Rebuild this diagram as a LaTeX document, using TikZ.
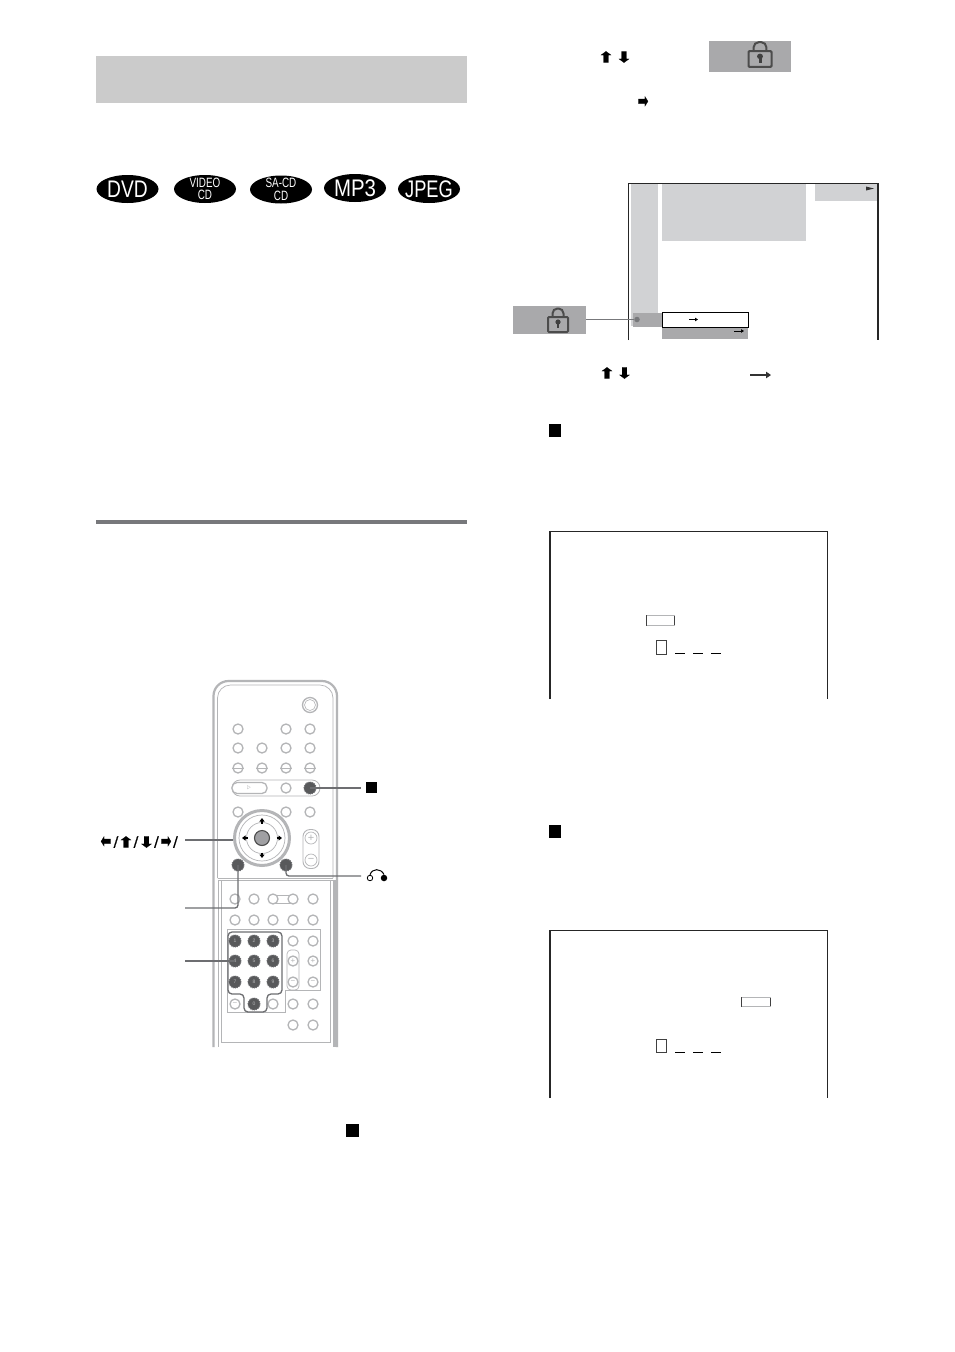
\documentclass[tikz,border=0pt]{standalone}
\usepackage{graphicx}
\usepackage{fontspec}
\setmainfont{Liberation Sans}
\newfontfamily\arrowfont{DejaVu Sans}[FakeBold=1]
\newcommand{\vglyph}[1]{\scalebox{1.35}[1]{#1}}
\newcommand{\hglyph}[1]{\scalebox{.85}[1.35]{#1}}
\usetikzlibrary{arrows.meta,shapes.geometric}
\definecolor{barG}{HTML}{CBCBCB}
\definecolor{paleG}{HTML}{D1D2D4}
\definecolor{midG}{HTML}{A9A9AB}
\definecolor{ruleG}{HTML}{77787B}
\definecolor{btnG}{HTML}{B4B5B7}
\definecolor{leadG}{HTML}{6D6E71}
\definecolor{darkB}{HTML}{58595B}
\tikzset{
  x=1pt,y=-1pt,
  discoval/.style={ellipse,fill=black,minimum width=62pt,minimum height=28pt,inner sep=0pt},
  ovalbig/.style={text=white,inner sep=0pt,font=\fontsize{24}{24}\selectfont},
  ovalsmall/.style={text=white,inner sep=0pt,yshift=-1.5pt,font=\fontsize{13.5}{11}\selectfont},
  btn/.style={circle,draw=btnG,line width=1.3pt,fill=white,minimum size=10pt,inner sep=0pt},
  btnmark/.style={text=btnG,inner sep=0pt,font=\fontsize{8}{8}\selectfont},
  dark/.style={circle,draw=leadG,densely dotted,line width=1pt,fill=darkB,minimum size=12pt,inner sep=0pt,text=btnG,font=\fontsize{5}{5}\selectfont},
  lead/.style={draw=leadG,line width=1.3pt,rounded corners=3pt},
  ar/.style={font=\arrowfont\fontsize{15}{15}\selectfont,inner sep=0pt},
  slashmark/.style={font=\arrowfont\fontsize{14}{14}\selectfont,inner sep=0pt},
  scr/.style={draw=black!85,line width=1.2pt},
  thinbox/.style={draw=black!75,line width=.7pt},
  stopsq/.style={fill=black,inner sep=0pt,minimum size=#1},
  pics/lockicon/.style={code={
    \draw[black!70,line width=2pt,rounded corners=5pt] (-5.5,-7.5) -- (-5.5,-16) -- (5.5,-16) -- (5.5,-7.5);
    \draw[black!70,line width=2pt,rounded corners=1pt,fill=midG] (-10,-7.5) rectangle (10,7.5);
    \fill[black!75] (0,-2.5) circle (2.6);
    \fill[black!75] (-1.3,-2.5) rectangle (1.3,3.5);
  }}
}
\begin{document}
\begin{tikzpicture}
\useasboundingbox[fill=white] (0,0) rectangle (954,1352);
% left column
\fill[barG] (96,56) rectangle (467,103);
\node[discoval] (dvd) at (127.5,189) {};
\node[ovalbig] (dvdt) at (dvd) {\scalebox{.8}[1]{DVD}};
\node[discoval] (vcd) at (205,189) {};
\node[ovalsmall] (vcdt) at (vcd) {\scalebox{.73}[1]{\begin{tabular}{@{}c@{}}VIDEO\\CD\end{tabular}}};
\node[discoval] (sacd) at (281,189.5) {};
\node[ovalsmall] (sacdt) at (sacd) {\scalebox{.73}[1]{\begin{tabular}{@{}c@{}}SA-CD\\CD\end{tabular}}};
\node[discoval] (mp3) at (355,188) {};
\node[ovalbig] (mp3t) at (mp3) {\scalebox{.85}[1]{MP3}};
\node[discoval] (jpeg) at (429,189) {};
\node[ovalbig] (jpegt) at (jpeg) {\scalebox{.76}[1]{JPEG}};
\fill[ruleG] (96,519.5) rectangle (467,523.5);
% remote body
\draw[btnG,line width=2.2pt,rounded corners=15pt] (213.5,1047) -- (213.5,681) -- (337,681) -- (337,1047);
\draw[btnG,line width=.7pt,rounded corners=13pt] (217.5,878) -- (217.5,685) -- (333,685) -- (333,878);
\draw[btnG,line width=.7pt] (217.5,878) -- (333,878);
\fill[btnG] (333,880) rectangle (338,1047);
\draw[btnG,line width=.6pt] (218,880) -- (218,1047) (221,880) -- (221,1042) -- (330,1042) -- (330,880) (218,880) -- (333,880);
\draw[btnG,line width=.6pt] (227,1012) -- (227,929) -- (320,929) -- (320,990) -- (285,990) -- (285,1012) -- cycle;
\draw[btnG,line width=.8pt,rounded corners=8pt] (232,780) rectangle (320,796);
% upper buttons
\node[btn,minimum size=15pt] (pwr) at (310,705) {};
\node[btn,minimum size=11pt,line width=.6pt] (pwrb) at (310,705) {};
\foreach \n/\x/\y in {a1/238/729,a2/286/729,a3/310/729,b1/238/748,b2/262/748,b3/286/748,b4/310/748,c1/238/768,c2/262/768,c3/286/768,c4/310/768,d2/286/788,e1/238/812,e2/286/812,e3/310/812}
  \node[btn] (\n) at (\x,\y) {};
\foreach \n in {c1,c2,c3,c4} \draw[btnG,line width=.8pt] (\n.west) -- (\n.east);
\node[draw=btnG,line width=1.3pt,fill=white,rounded corners=5pt,minimum width=35pt,minimum height=11pt,inner sep=0pt] (play) at (249.5,788) {};
\node[font=\fontsize{7}{7}\selectfont,text=btnG,inner sep=0pt] (playg) at (249,788) {$\triangleright$};
\node[dark] (stopb) at (310,788) {};
% volume
\node[draw=btnG,line width=.9pt,fill=white,rounded corners=7pt,minimum width=16pt,minimum height=39pt,inner sep=0pt] (vol) at (311,849) {};
\node[btn,line width=.7pt,minimum size=12pt] (volp) at (311,838) {};
\node[btn,line width=.7pt,minimum size=12pt] (volm) at (311,860) {};
\node[btnmark,font=\fontsize{11}{11}\selectfont] (volpt) at (volp) {+};
\node[btnmark,font=\fontsize{11}{11}\selectfont] (volmt) at (volm) {−};
% dial
\node[circle,draw=btnG,line width=3pt,fill=white,minimum size=55pt,inner sep=0pt] (dial) at (262,838) {};
\node[circle,draw=btnG,line width=.7pt,minimum size=46pt,inner sep=0pt] (dialb) at (262,838) {};
\node[circle,draw=btnG,line width=.7pt,minimum size=31pt,inner sep=0pt] (dialc) at (262,838) {};
\node[circle,draw=black!70,line width=1.1pt,fill=ruleG!70,minimum size=15pt,inner sep=0pt] (enter) at (262,838) {};
\foreach \b in {0,90,180,270}
  \draw[black,line width=1.1pt,-{Triangle[length=3.5pt,width=5pt]}] (enter.center) ++(\b:14.5pt) -- ++(\b:5.5pt);
\node[dark] (setb) at (238,865) {};
\node[dark] (retb) at (286,865) {};
% lower buttons
\node[draw=btnG,line width=.8pt,fill=white,minimum width=20pt,minimum height=8pt,inner sep=0pt] (link) at (283,899) {};
\foreach \n/\x/\y in {f1/235/899,f2/254/899,f3/273/899,f4/293/899,f5/313/899,g1/235/920,g2/254/920,g3/273/920,g4/293/920,g5/313/920,h4/293/941,h5/313/941,i5/313/961,j5/313/982,k1/235/1004,k3/273/1004,k4/293/1004,k5/313/1004,l4/293/1025,l5/313/1025}
  \node[btn] (\n) at (\x,\y) {};
\draw[btnG,line width=.7pt,rounded corners=4pt] (287,950) rectangle (299,990);
\node[btn] (pm1) at (293,961) {};
\node[btn] (pm2) at (293,982) {};
\node[btnmark] (pm1t) at (pm1) {+};
\node[btnmark] (pm2t) at (pm2) {−};
\node[btnmark] (i5t) at (i5) {+};
\node[btnmark] (j5t) at (j5) {−};
\node[btnmark] (k1t) at (k1) {−};
\foreach \n/\x/\y/\t in {n1/235/941/1,n2/254/941/2,n3/273/941/3,n4/235/961/4,n5/254/961/5,n6/273/961/6,n7/235/982/7,n8/254/982/8,n9/273/982/9,n0/254/1004/0}
  \node[dark] (\n) at (\x,\y) {\t};
\draw[leadG,line width=1.3pt,rounded corners=4pt] (228,932) -- (282,932) -- (282,994) -- (267,994) -- (267,1012) -- (244,1012) -- (244,994) -- (228,994) -- cycle;
% labels and leaders
\node[stopsq=11pt] (stoplabel) at (371,787.5) {};
\coordinate (stopend) at (361,788);
\draw[lead] (stopb.center) -- (stopend);
\coordinate (arrowend) at (185,840);
\node[ar] (lleft) at (106,842) {\hglyph{⬅}};
\node[slashmark] (s1) at (116,842) {/};
\node[ar] (lup) at (126,842) {\vglyph{⬆}};
\node[slashmark] (s2) at (136,842) {/};
\node[ar] (ldn) at (146.5,842) {\vglyph{⬇}};
\node[slashmark] (s3) at (156.5,842) {/};
\node[ar] (lrt) at (166,842) {\hglyph{➡}};
\node[slashmark] (s4) at (175.5,842) {/};
\draw[lead] (arrowend) -- (dial.west |- arrowend);
\coordinate (setend) at (185,908);
\draw[lead] (setb.center) -- (238,908) -- (setend);
\coordinate (numend) at (185,961);
\draw[lead] (numend) -- (n4.center);
\coordinate (retend) at (361,876);
\draw[lead] (retb.center) -- (286,876) -- (retend);
\node[circle,draw=black,line width=.8pt,fill=white,minimum size=5.5pt,inner sep=0pt] (reta) at (370,878) {};
\node[circle,fill=black,minimum size=6.5pt,inner sep=0pt] (retc) at (384,878) {};
\draw[black,line width=1pt] (reta.north) .. controls (372,868) and (381,868) .. (retc.north);
\node[stopsq=13pt] (stopmain) at (352,1130) {};
% right column top
\node[ar] (up1) at (606,57) {\vglyph{⬆}};
\node[ar] (dn1) at (624,57) {\vglyph{⬇}};
\fill[midG] (709,41) rectangle (791,72);
\pic[xscale=1.15,yscale=1.05] at (760,59) {lockicon};
\node[ar] (rt1) at (643,102) {\hglyph{➡}};
% screen 1
\fill[paleG] (631,184) rectangle (658,326);
\fill[paleG] (662,184) rectangle (806,241);
\fill[paleG] (815,184) rectangle (877,201);
\fill[black!80] (866,186.5) -- (874,188.5) -- (866,190.5) -- cycle;
\draw[scr] (628.5,340) -- (628.5,183.5) -- (878,183.5) -- (878,340);
\fill[midG] (633,313) rectangle (662,327);
\fill[midG] (662,327) rectangle (748,339);
\fill[midG] (513,306) rectangle (586,334);
\pic at (558,324.5) {lockicon};
\node[draw=black,line width=.9pt,fill=white,minimum width=86pt,minimum height=15pt,inner sep=0pt] (sel) at (705,319.5) {};
\node[circle,fill=ruleG,minimum size=5.5pt,inner sep=0pt] (dot) at (637,319.5) {};
\coordinate (lockend) at (586,319.5);
\draw[ruleG,line width=.9pt] (lockend) -- (dot);
\draw[black,line width=.8pt,-{Triangle[length=3pt,width=3.5pt]}] (689,319.5) -- (698,319.5);
\draw[black,line width=.8pt,-{Triangle[length=3pt,width=3.5pt]}] (734,331) -- (744,331);
\node[ar] (up2) at (607,373) {\vglyph{⬆}};
\node[ar] (dn2) at (624.5,373) {\vglyph{⬇}};
\draw[black!80,line width=1.1pt,-{Triangle[length=5pt,width=6.5pt]}] (750,375) -- (771,375);
\node[stopsq=12.5pt] (sq2) at (555,430.5) {};
% screen 2
\draw[scr] (550,699) -- (550,531.5) -- (827.5,531.5) -- (827.5,699);
\draw[thinbox,fill=white] (646.5,615.5) rectangle (674.5,625);
\draw[btnG,line width=1pt] (646.5,615.5) -- (674.5,615.5) (646.5,625) -- (674.5,625);
\node[thinbox,fill=white,minimum width=10.5pt,minimum height=13.5pt,inner sep=0pt] (cur2) at (661.5,647.5) {};
\foreach \x in {675,693,711} \draw[black,line width=.7pt] (\x,653) -- ++(10,0);
\node[stopsq=12.5pt] (sq3) at (555,831.5) {};
% screen 3
\draw[scr] (550,1098) -- (550,930.5) -- (827.5,930.5) -- (827.5,1098);
\draw[thinbox,fill=white] (741.5,997.5) rectangle (770.5,1006);
\draw[btnG,line width=1pt] (741.5,997.5) -- (770.5,997.5) (741.5,1006) -- (770.5,1006);
\node[thinbox,fill=white,minimum width=10.5pt,minimum height=13.5pt,inner sep=0pt] (cur3) at (661.5,1046) {};
\foreach \x in {675,693,711} \draw[black,line width=.7pt] (\x,1052) -- ++(10,0);
\end{tikzpicture}
\end{document}
